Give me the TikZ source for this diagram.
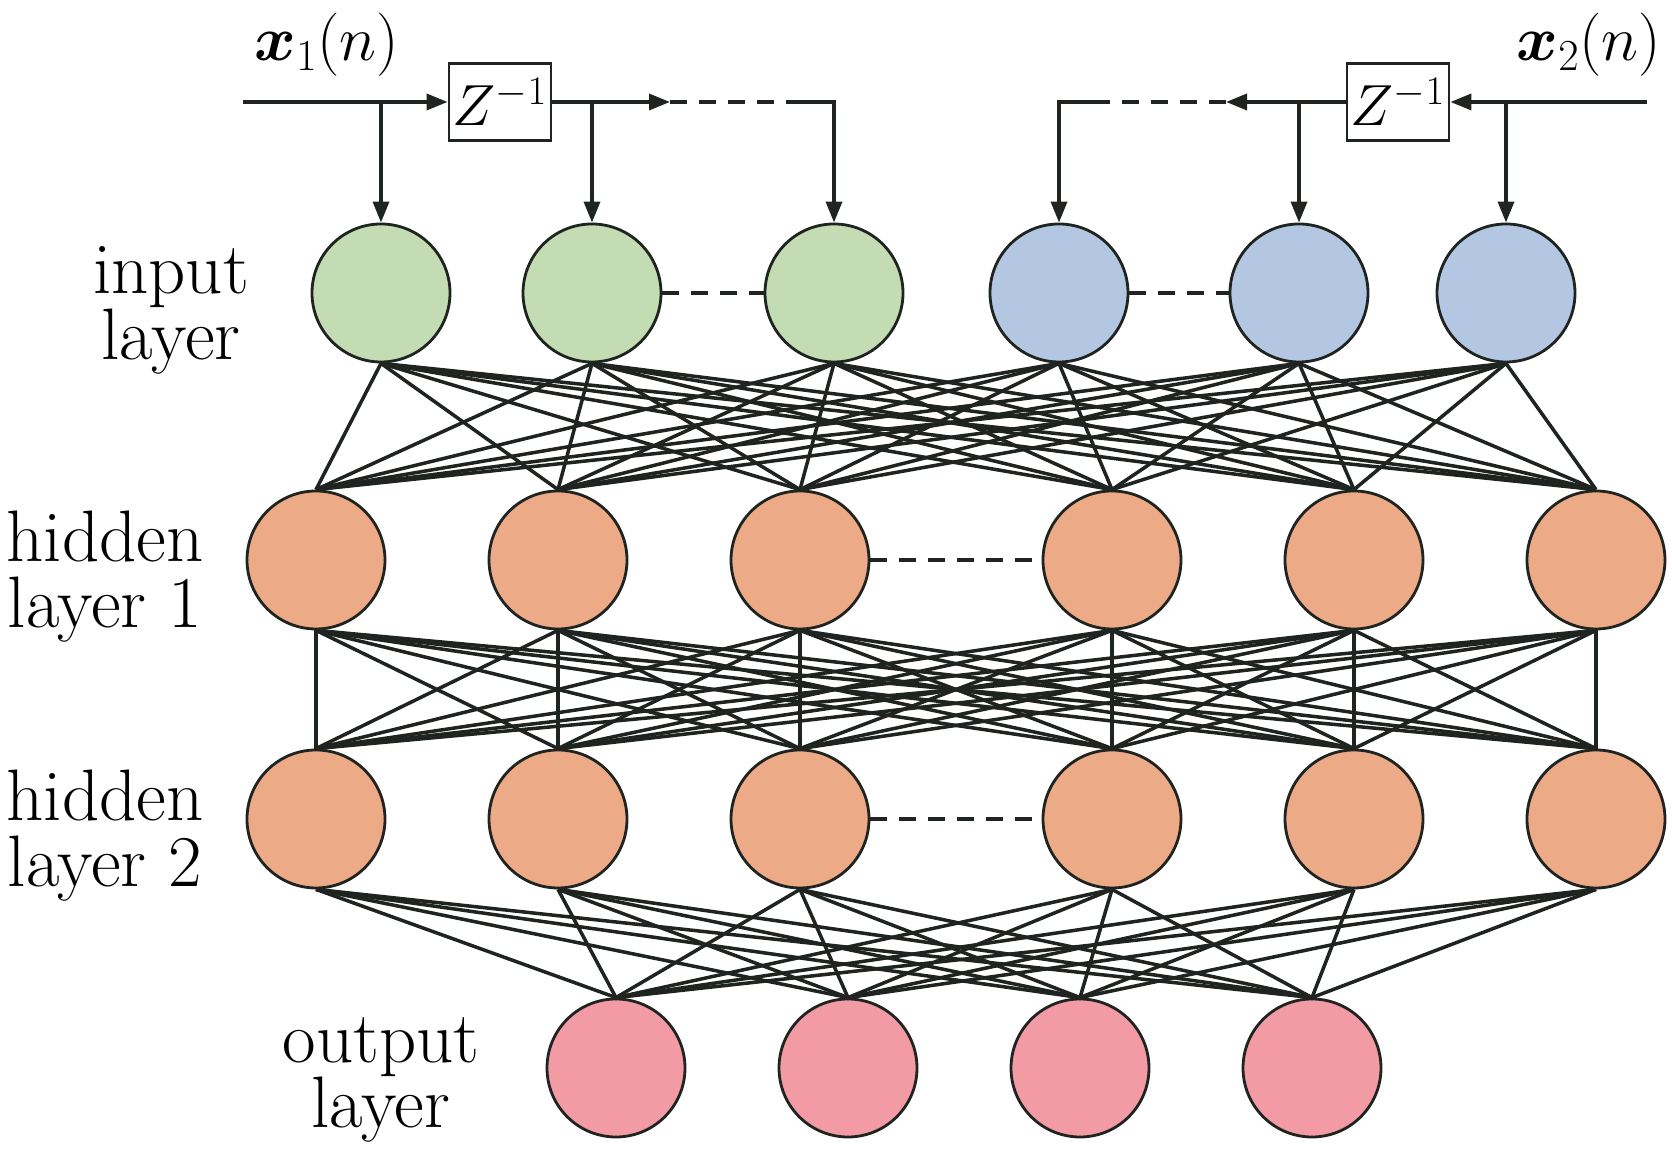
\RequirePackage{fix-cm}
\documentclass[tikz,border=0pt]{standalone}
\usepackage{bm}
\usetikzlibrary{arrows.meta}

\definecolor{ingreen}{HTML}{C4DCB3}
\definecolor{inblue}{HTML}{B3C7E3}
\definecolor{hidorange}{HTML}{ECAB86}
\definecolor{outpink}{HTML}{F29BA5}
\definecolor{ink}{HTML}{1F2420}

\tikzset{
  neuron/.style={circle,draw=ink,line width=1.6pt,minimum size=2.76cm,inner sep=0pt},
  delay/.style={draw=ink,line width=1.6pt,minimum width=2.04cm,minimum height=1.54cm,inner sep=0pt,fill=white,font=\fontsize{33}{33}\selectfont},
  link/.style={draw=ink,line width=2pt},
  sig/.style={draw=ink,line width=2pt},
  sigarrow/.style={sig,-{Triangle[length=0.42cm,width=0.32cm]}},
  skipline/.style={draw=ink,line width=2pt,dash pattern=on 0.34cm off 0.24cm},
  signame/.style={font=\fontsize{36}{36}\selectfont}
}

\begin{document}
\begin{tikzpicture}[font=\fontsize{41.5}{37.5}\selectfont]
  \useasboundingbox (0,0) rectangle (33.44,23.04);

  \foreach \x/\c [count=\i] in {7.62/ingreen,11.84/ingreen,16.68/ingreen,21.18/inblue,25.98/inblue,30.12/inblue}
    \node[neuron,fill=\c] (in\i) at (\x,17.18) {};
  \foreach \x [count=\i] in {6.32,11.16,16.0,22.24,27.08,31.92} {
    \node[neuron,fill=hidorange] (ha\i) at (\x,11.84) {};
    \node[neuron,fill=hidorange] (hb\i) at (\x,6.66) {};
  }
  \foreach \x [count=\i] in {12.32,16.96,21.6,26.24}
    \node[neuron,fill=outpink] (out\i) at (\x,1.68) {};

  \foreach \i in {1,...,6} {
    \foreach \j in {1,...,6} {
      \draw[link] (in\i.south) -- (ha\j.north);
      \draw[link] (ha\i.south) -- (hb\j.north);
    }
    \foreach \j in {1,...,4}
      \draw[link] (hb\i.south) -- (out\j.north);
  }

  \draw[skipline] (in2.east) -- (in3.west);
  \draw[skipline] (in4.east) -- (in5.west);
  \draw[skipline] (ha3.east) -- (ha4.west);
  \draw[skipline] (hb3.east) -- (hb4.west);

  % delay line of x_1
  \coordinate (s1) at (4.86,21.0);
  \coordinate (d1) at (13.4,21.0);
  \coordinate (e1) at (15.78,21.0);
  \node[delay] (z1) at (10.0,21.0) {$Z^{-1}$};
  \draw[sigarrow] (s1) -- (z1.west);
  \draw[sigarrow] (z1.east) -- (d1);
  \draw[skipline] (d1) -- (e1);
  \draw[sigarrow] (e1) -| (in3.north);
  \draw[sigarrow] (in1 |- s1) -- (in1.north);
  \draw[sigarrow] (in2 |- s1) -- (in2.north);

  % delay line of x_2
  \coordinate (s2) at (32.94,21.0);
  \coordinate (d2) at (24.52,21.0);
  \coordinate (e2) at (21.96,21.0);
  \node[delay] (z2) at (27.96,21.0) {$Z^{-1}$};
  \draw[sigarrow] (s2) -- (z2.east);
  \draw[sigarrow] (z2.west) -- (d2);
  \draw[skipline] (d2) -- (e2);
  \draw[sigarrow] (e2) -| (in4.north);
  \draw[sigarrow] (in6 |- s2) -- (in6.north);
  \draw[sigarrow] (in5 |- s2) -- (in5.north);

  \node[signame] (x1) at (6.54,22.14) {$\bm{x}_1(n)$};
  \node[signame] (x2) at (31.78,22.14) {$\bm{x}_2(n)$};

  \node[align=center] (linput) at (3.42,16.84) {input\\layer};
  \node[align=center] (lhida) at (2.1,11.5) {hidden\\layer 1};
  \node[align=center] (lhidb) at (2.1,6.32) {hidden\\layer 2};
  \node[align=center] (lout) at (7.62,1.44) {output\\layer};
\end{tikzpicture}
\end{document}
